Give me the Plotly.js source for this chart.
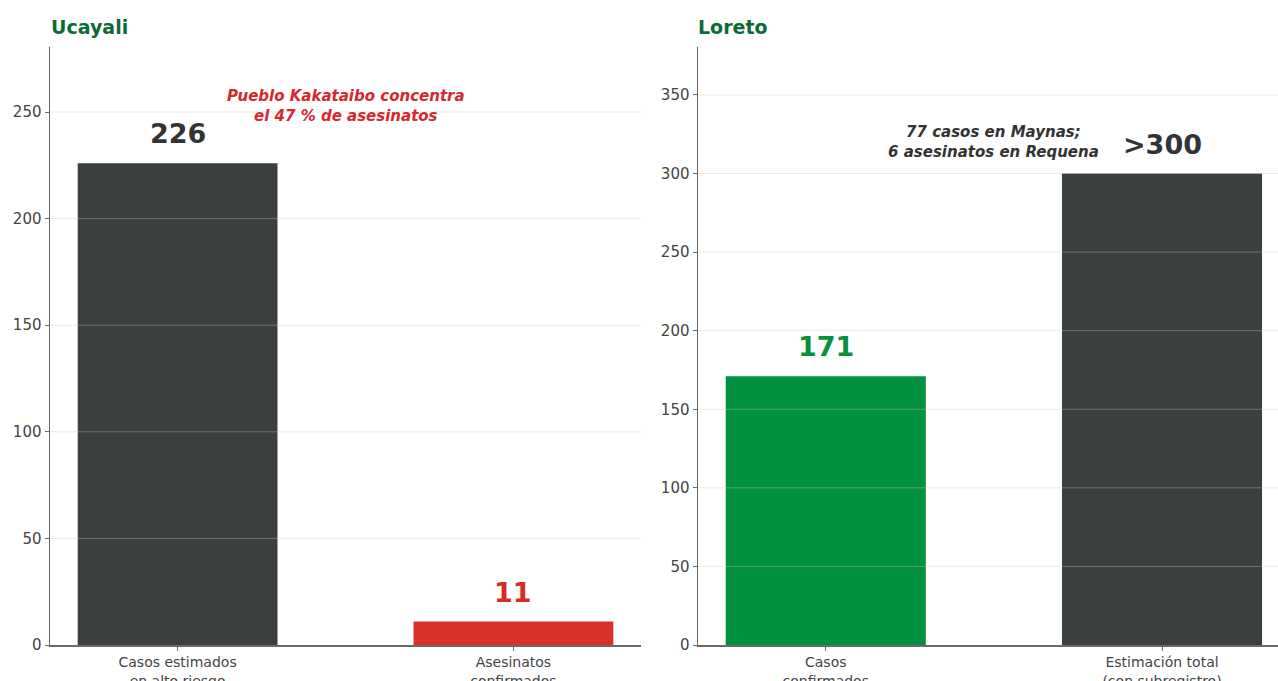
<!DOCTYPE html>
<html>
<head>
<meta charset="utf-8">
<script src="https://cdn.plot.ly/plotly-3.0.1.min.js"></script>
<style>html,body{margin:0;padding:0;background:#fff;}#chart{width:1278px;height:681px;}</style>
</head>
<body>
<div id="chart"></div>
<script>
// Ucayali panel
var ucayaliCategories = ["Casos estimados<br>en alto riesgo", "Asesinatos<br>confirmados"];
var ucayaliValues = [226, 11];
var ucayaliLabels = ["226", "11"];
var ucayaliColors = ["#3c3f3f", "#d9302a"];
var ucayaliLabelColors = ["#333333", "#d62c27"];
var ucayaliNote = "Pueblo Kakataibo concentra<br>el 47 % de asesinatos";
var ucayaliNoteY = 253;
var ucayaliTicks = [0, 50, 100, 150, 200, 250];

// Loreto panel
var loretoCategories = ["Casos<br>confirmados", "Estimación total<br>(con subregistro)"];
var loretoValues = [171, 300];
var loretoLabels = ["171", ">300"];
var loretoColors = ["#00913f", "#3c3f3f"];
var loretoLabelColors = ["#0a8f3c", "#333333"];
var loretoNote = "77 casos en Maynas;<br>6 asesinatos en Requena";
var loretoNoteY = 320;
var loretoTicks = [0, 50, 100, 150, 200, 250, 300, 350];

var FONT = "DejaVu Sans, Verdana, sans-serif";
var W = 1278, H = 681;
var yDom = [(H - 645) / H, (H - 47) / H];

var traces = [
  {type: "bar", x: ucayaliCategories, y: ucayaliValues, width: 0.595,
   marker: {color: ucayaliColors, line: {width: 0}}, xaxis: "x", yaxis: "y",
   hoverinfo: "none", showlegend: false},
  {type: "bar", x: loretoCategories, y: loretoValues, width: 0.595,
   marker: {color: loretoColors, line: {width: 0}}, xaxis: "x2", yaxis: "y2",
   hoverinfo: "none", showlegend: false}
];

var annotations = [];
function addLabels(cats, vals, labels, colors, xr, yr) {
  for (var i = 0; i < cats.length; i++) {
    annotations.push({xref: xr, yref: yr, x: cats[i], y: vals[i], text: "<b>" + labels[i] + "</b>",
      showarrow: false, yanchor: "bottom", yshift: 12,
      font: {family: FONT, size: 27, color: colors[i]}});
  }
}
addLabels(ucayaliCategories, ucayaliValues, ucayaliLabels, ucayaliLabelColors, "x", "y");
addLabels(loretoCategories, loretoValues, loretoLabels, loretoLabelColors, "x2", "y2");

annotations.push({xref: "x", yref: "y", x: 0.5, y: ucayaliNoteY, text: "<b><i>" + ucayaliNote + "</i></b>",
  showarrow: false, xanchor: "center", yanchor: "middle", align: "center",
  font: {family: FONT, size: 15, color: "#d7272c"}});
annotations.push({xref: "x2", yref: "y2", x: 0.5, y: loretoNoteY, text: "<b><i>" + loretoNote + "</i></b>",
  showarrow: false, xanchor: "center", yanchor: "middle", align: "center",
  font: {family: FONT, size: 15, color: "#333333"}});

annotations.push({xref: "paper", yref: "paper", x: 49 / W, y: (H - 27) / H, text: "<b>Ucayali</b>",
  showarrow: false, xanchor: "left", yanchor: "middle",
  font: {family: FONT, size: 19, color: "#0b6b35"}});
annotations.push({xref: "paper", yref: "paper", x: 696 / W, y: (H - 27) / H, text: "<b>Loreto</b>",
  showarrow: false, xanchor: "left", yanchor: "middle",
  font: {family: FONT, size: 19, color: "#0b6b35"}});

var shapes = [];
function addGrid(ticks, xr, yr) {
  ticks.forEach(function (t) {
    if (t === 0) return;
    shapes.push({type: "line", xref: xr + " domain", yref: yr, x0: 0, x1: 1, y0: t, y1: t,
      layer: "above", line: {color: "rgba(200,200,200,0.38)", width: 1}});
  });
}
addGrid(ucayaliTicks, "x", "y");
addGrid(loretoTicks, "x2", "y2");

function yAxis(ticks, range, anchor) {
  return {domain: yDom, range: range, anchor: anchor, tickmode: "array", tickvals: ticks,
    ticktext: ticks.map(String), showgrid: false, zeroline: false, showline: true,
    linecolor: "#6a6a6a", linewidth: 1.5, ticks: "outside", ticklen: 4, tickcolor: "#6a6a6a",
    tickfont: {family: FONT, size: 15, color: "#444444"}, fixedrange: true};
}
function xAxis(dom, range, anchor) {
  return {domain: dom, range: range, anchor: anchor, type: "category", showgrid: false,
    zeroline: false, showline: true, linecolor: "#6a6a6a", linewidth: 1.5, ticks: "outside",
    ticklen: 4, tickcolor: "#6a6a6a", tickfont: {family: FONT, size: 14, color: "#444444"},
    fixedrange: true};
}

var layout = {
  width: W, height: H,
  margin: {l: 0, r: 0, t: 0, b: 0, pad: 0},
  paper_bgcolor: "#ffffff", plot_bgcolor: "#ffffff",
  showlegend: false,
  xaxis: xAxis([50 / W, 641 / W], [-0.38, 1.38], "y"),
  yaxis: yAxis(ucayaliTicks, [0, 280.5], "x"),
  xaxis2: xAxis([698 / W, 1], [-0.38, 1.345], "y2"),
  yaxis2: yAxis(loretoTicks, [0, 380.5], "x2"),
  annotations: annotations,
  shapes: shapes
};

Plotly.newPlot("chart", traces, layout, {displayModeBar: false, staticPlot: true});
</script>
</body>
</html>
